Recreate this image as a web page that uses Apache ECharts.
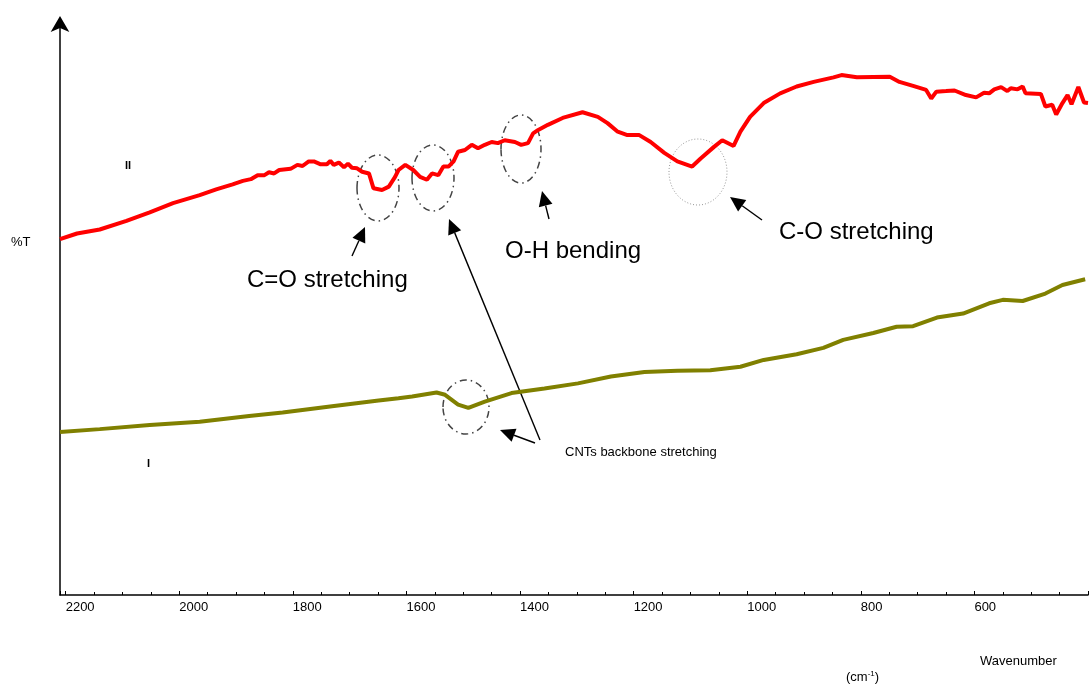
<!DOCTYPE html>
<html>
<head>
<meta charset="utf-8">
<script src="https://cdn.jsdelivr.net/npm/echarts@6/dist/echarts.min.js"></script>
<style>
  html, body { margin: 0; padding: 0; background: #fff; }
  #chart { width: 1091px; height: 684px; }
</style>
</head>
<body>
<div id="chart"></div>
<script>
// spectrum II (red) : wavenumber (cm-1) and %T
const waveII = [2210, 2180, 2140, 2093, 2052, 2011, 1964, 1935, 1906, 1888, 1874, 1862, 1850, 1842, 1833, 1824, 1804,
  1792, 1783, 1772, 1763, 1751, 1740, 1734, 1728, 1719, 1710, 1703, 1696, 1687, 1678, 1666, 1658, 1643, 1631, 1620,
  1614, 1602, 1588, 1576, 1564, 1555, 1544, 1535, 1526, 1517, 1509, 1497, 1485, 1474, 1462, 1450, 1439, 1427, 1409,
  1398, 1386, 1377, 1368, 1351, 1325, 1290, 1263, 1246, 1228, 1211, 1190, 1170, 1146, 1123, 1097, 1082, 1059, 1044,
  1024, 1012, 995, 971, 942, 913, 883, 848, 834, 807, 749, 732, 708, 685, 676, 667, 650, 635, 615, 597, 583, 574, 565,
  553, 542, 536, 524, 515, 510, 483, 475, 463, 456, 445, 436, 429, 417, 407, 400];
const transII = [62.2, 63.2, 63.9, 65.4, 66.9, 68.5, 69.9, 70.9, 71.8, 72.4, 72.7, 73.4, 73.4, 73.9, 73.7, 74.3, 74.5,
  75.2, 75.0, 75.8, 75.8, 75.3, 75.3, 75.9, 75.2, 75.6, 74.8, 75.4, 74.7, 74.6, 74.0, 73.7, 71.1, 70.8, 71.4, 73.1,
  74.3, 75.2, 74.3, 73.1, 72.6, 73.7, 73.4, 74.9, 74.9, 75.8, 77.5, 77.8, 78.7, 78.1, 78.7, 79.2, 79.0, 79.5, 79.2,
  78.7, 79.0, 80.7, 81.3, 82.2, 83.4, 84.4, 83.6, 82.5, 81.0, 80.4, 80.4, 79.2, 77.3, 75.8, 74.9, 76.3, 78.3, 79.5,
  78.5, 81.0, 83.6, 86.0, 87.7, 88.9, 89.7, 90.5, 90.9, 90.5, 90.6, 89.7, 89.0, 88.3, 86.8, 88.0, 88.1, 88.2, 87.4, 87.0, 87.8, 87.7, 88.4,
  88.8, 88.1, 88.6, 88.4, 88.9, 87.7, 87.6, 85.4, 85.7, 84.0, 86.0, 87.4, 85.8, 88.8, 86.1, 86.0];

// spectrum I (olive)
const waveI = [2210, 2140, 2052, 1964, 1877, 1818, 1731, 1649, 1614, 1590, 1547, 1532, 1509, 1491, 1462, 1415, 1357,
  1298, 1240, 1181, 1123, 1065, 1012, 971, 913, 866, 831, 778, 737, 708, 666, 620, 574, 550, 515, 475, 445, 405];
const transI = [28.5, 29.0, 29.7, 30.3, 31.3, 31.9, 33.0, 34.0, 34.4, 34.7, 35.4, 35.0, 33.3, 32.7, 33.8, 35.3, 36.1,
  37.0, 38.2, 39.0, 39.2, 39.3, 39.9, 41.1, 42.1, 43.2, 44.6, 45.8, 46.9, 47.0, 48.5, 49.2, 51.0, 51.6, 51.4, 52.7, 54.2, 55.2];

const xTicks = [2200, 2000, 1800, 1600, 1400, 1200, 1000, 800, 600];

const zip = (xs, ys) => xs.map((x, i) => [x, ys[i]]);
const FONT = 'Liberation Sans, Arial, sans-serif';

function arrow(x1, y1, x2, y2) {
  // line from tail (x1,y1) to tip (x2,y2) with a filled head
  const ang = Math.atan2(y2 - y1, x2 - x1);
  const len = 15, half = 7;
  const bx = x2 - len * Math.cos(ang), by = y2 - len * Math.sin(ang);
  const px = -Math.sin(ang) * half, py = Math.cos(ang) * half;
  return [
    { type: 'line', shape: { x1: x1, y1: y1, x2: bx, y2: by }, style: { stroke: '#000', lineWidth: 1.4 } },
    { type: 'polygon', shape: { points: [[x2, y2], [bx + px, by + py], [bx - px, by - py]] }, style: { fill: '#000' } }
  ];
}

function ring(cx, cy, rx, ry, dotted) {
  return {
    type: 'ellipse', shape: { cx: cx, cy: cy, rx: rx, ry: ry },
    style: dotted
      ? { fill: 'none', stroke: '#999', lineWidth: 1, lineDash: [1, 2] }
      : { fill: 'none', stroke: '#444', lineWidth: 1.5, lineDash: [7, 4, 1.5, 4] }
  };
}

function label(x, y, text, size, bold) {
  return { type: 'text', x: x, y: y, style: { text: text, font: (bold ? 'bold ' : '') + size + 'px ' + FONT, fill: '#000', verticalAlign: 'middle' } };
}

const chart = echarts.init(document.getElementById('chart'));
chart.setOption({
  animation: false,
  backgroundColor: '#fff',
  grid: { left: 60, right: 0, top: 23, bottom: 89 },
  xAxis: {
    type: 'value', inverse: true, min: 400, max: 2210, interval: 200,
    axisLine: { lineStyle: { color: '#000', width: 1.5 } },
    axisTick: { inside: true, length: 4, lineStyle: { color: '#000' } },
    minorTick: { show: true, splitNumber: 4, length: 3, lineStyle: { color: '#000' } },
    splitLine: { show: false },
    axisLabel: {
      color: '#000', fontSize: 13, fontFamily: FONT, align: 'left', margin: 6,
      formatter: v => xTicks.indexOf(v) >= 0 ? String(v) : ''
    }
  },
  yAxis: {
    type: 'value', min: 0, max: 100,
    axisLine: {
      show: true, symbol: ['none', 'arrow'], symbolSize: [14, 16], symbolOffset: [0, 7],
      lineStyle: { color: '#000', width: 1.5 }
    },
    axisTick: { show: false }, axisLabel: { show: false }, splitLine: { show: false }
  },
  series: [
    { name: 'II', type: 'line', data: zip(waveII, transII), symbol: 'none', lineStyle: { color: '#ff0000', width: 4 } },
    { name: 'I', type: 'line', data: zip(waveI, transI), symbol: 'none', lineStyle: { color: '#808000', width: 4 } }
  ],
  graphic: [
    label(11, 242, '%T', 13),
    label(125, 166, 'II', 11, true),
    label(147, 464, 'I', 11, true),
    label(980, 661, 'Wavenumber', 13),
    {
      type: 'text', x: 846, y: 677,
      style: {
        text: '(cm{s|-1})', font: '13px ' + FONT, fill: '#000', verticalAlign: 'middle',
        rich: { s: { fontSize: 8, verticalAlign: 'top', padding: [0, 0, 7, 0] } }
      }
    },
    label(247, 280, 'C=O stretching', 24),
    label(505, 251, 'O-H bending', 24),
    label(779, 232, 'C-O stretching', 24),
    label(565, 452, 'CNTs backbone stretching', 13),
    ring(378, 188, 21, 33),
    ring(433, 178, 21, 33),
    ring(521, 149, 20, 34),
    ring(698, 172, 29, 33, true),
    ring(466, 407, 23, 27),
    ...arrow(352, 256, 365, 227),
    ...arrow(549, 219, 542, 191),
    ...arrow(762, 220, 730, 197),
    ...arrow(540, 440, 449, 219),
    ...arrow(535, 443, 500, 430)
  ]
});
</script>
</body>
</html>
